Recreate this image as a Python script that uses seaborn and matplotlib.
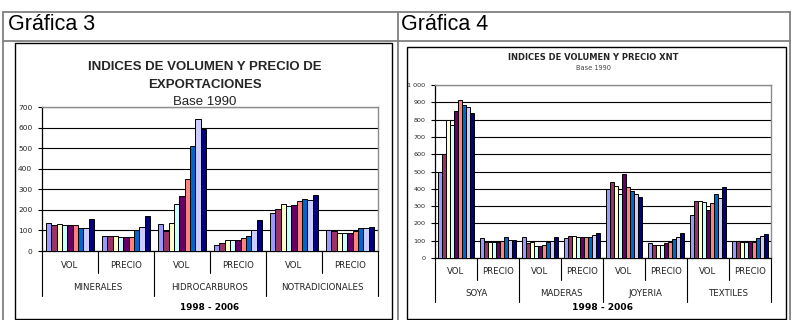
import matplotlib
matplotlib.use("Agg")
import matplotlib.pyplot as plt
import numpy as np
import pandas as pd
import seaborn as sns
from matplotlib.lines import Line2D
from matplotlib.patches import Rectangle
from matplotlib.transforms import blended_transform_factory

# --- data -------------------------------------------------------------
years = [str(y) for y in range(1998, 2007)]
palette = ["#9999FF", "#993366", "#FFFFCC", "#CCFFFF", "#660066",
           "#FF8080", "#0066CC", "#CCCCFF", "#000080"]
measures = ["VOL", "PRECIO"]

# Gráfica 3: export volume and price indices
g3_groups = ["MINERALES", "HIDROCARBUROS", "NOTRADICIONALES"]
minerales_vol = [138, 125, 130, 125, 125, 125, 110, 110, 155]
minerales_precio = [75, 75, 75, 68, 68, 68, 100, 118, 168]
hidrocarburos_vol = [130, 95, 138, 230, 268, 350, 510, 640, 595]
hidrocarburos_precio = [30, 37, 55, 55, 55, 62, 75, 100, 150]
notradicionales_vol = [185, 205, 230, 218, 225, 243, 255, 250, 270]
notradicionales_precio = [100, 95, 88, 88, 88, 95, 110, 110, 118]
g3_values = [minerales_vol, minerales_precio,
             hidrocarburos_vol, hidrocarburos_precio,
             notradicionales_vol, notradicionales_precio]

# Gráfica 4: non-traditional exports (XNT)
g4_groups = ["SOYA", "MADERAS", "JOYERIA", "TEXTILES"]
soya_vol = [500, 600, 795, 770, 850, 915, 885, 870, 840]
soya_precio = [115, 90, 90, 90, 90, 100, 120, 105, 105]
maderas_vol = [120, 85, 90, 70, 68, 78, 95, 100, 120]
maderas_precio = [115, 128, 128, 120, 120, 120, 120, 135, 143]
joyeria_vol = [400, 440, 415, 370, 485, 410, 385, 370, 350]
joyeria_precio = [85, 78, 78, 78, 85, 92, 112, 122, 145]
textiles_vol = [250, 330, 330, 325, 275, 318, 370, 348, 410]
textiles_precio = [100, 100, 92, 92, 100, 92, 115, 128, 138]
g4_values = [soya_vol, soya_precio, maderas_vol, maderas_precio,
             joyeria_vol, joyeria_precio, textiles_vol, textiles_precio]

g3_yticks = list(range(0, 701, 100))
g4_yticks = list(range(0, 1001, 100))
g4_ytick_labels = ["0", "100", "200", "300", "400", "500",
                   "600", "700", "800", "900", "1 000"]


def long_table(groups, values):
    rows = []
    k = 0
    for g in groups:
        for m in measures:
            for y, v in zip(years, values[k]):
                rows.append({"serie": f"{g} {m}", "anio": y, "indice": v})
            k += 1
    return pd.DataFrame(rows)


df3 = long_table(g3_groups, g3_values)
df4 = long_table(g4_groups, g4_values)

# --- figure -----------------------------------------------------------
sns.set_theme(style="white")
plt.rcParams["font.family"] = ["Liberation Sans", "DejaVu Sans"]

W, H = 792, 320
fig = plt.figure(figsize=(W / 100, H / 100), dpi=100)
fig.patch.set_facecolor("white")


def fx(x):
    return x / W


def fy(y):
    return 1 - y / H


def hline(x0, x1, y, color="#808080", lw=1.3):
    fig.add_artist(Line2D([fx(x0), fx(x1)], [fy(y), fy(y)],
                          color=color, lw=lw, transform=fig.transFigure))


def vline(x, y0, y1, color="#808080", lw=1.3):
    fig.add_artist(Line2D([fx(x), fx(x)], [fy(y0), fy(y1)],
                          color=color, lw=lw, transform=fig.transFigure))


# table frame around both charts
hline(3, 790, 12)
hline(3, 790, 41)
vline(3, 12, 320)
vline(398, 12, 320)
vline(790, 12, 320)
fig.text(fx(8), fy(30), "Gráfica 3", fontsize=15.5, color="black", va="baseline")
fig.text(fx(401), fy(30), "Gráfica 4", fontsize=15.5, color="black", va="baseline")

# chart boxes
for (x0, y0, x1, y1) in [(15, 43, 392, 319), (407, 47, 786, 319)]:
    fig.add_artist(Rectangle((fx(x0), fy(y1)), fx(x1) - fx(x0), fy(y0) - fy(y1),
                             fill=False, edgecolor="black", lw=1.0,
                             transform=fig.transFigure))


def draw_chart(rect, df, groups, yticks, yticklabels, tick_fs, sub_fs,
               sub_y, sub_sep, grp_y, grp_sep, period_y, period_fs):
    x0, y0, x1, y1 = rect
    ax = fig.add_axes([fx(x0), fy(y1), fx(x1) - fx(x0), fy(y0) - fy(y1)])
    order = [f"{g} {m}" for g in groups for m in measures]
    sns.barplot(data=df, x="serie", y="indice", hue="anio", order=order,
                hue_order=years, palette=palette, saturation=1,
                edgecolor="black", linewidth=0.7, width=0.86,
                legend=False, ax=ax, zorder=3)
    ax.set_xlim(-0.5, len(order) - 0.5)
    ax.set_ylim(yticks[0], yticks[-1])
    ax.set_yticks(yticks)
    ax.set_yticklabels(yticklabels, fontsize=tick_fs,
                       family=["DejaVu Sans"])
    ax.tick_params(axis="y", length=3, width=0.8, color="black", pad=4,
                   left=True)
    ax.set_xticks([])
    ax.set_xlabel("")
    ax.set_ylabel("")
    ax.yaxis.grid(True, color="black", lw=0.8)
    ax.set_axisbelow(True)
    ax.set_facecolor("white")
    ax.spines["left"].set_color("black")
    ax.spines["left"].set_linewidth(0.9)
    ax.spines["bottom"].set_color("black")
    ax.spines["bottom"].set_linewidth(0.9)
    for s in ("top", "right"):
        ax.spines[s].set_color("#8c8c8c")
        ax.spines[s].set_linewidth(1.0)

    tr = blended_transform_factory(ax.transData, fig.transFigure)
    n = len(order)
    for i, lab in enumerate(order):
        ax.text(i, fy(sub_y), lab.split(" ")[1], transform=tr,
                ha="center", va="center", fontsize=sub_fs,
                family=["DejaVu Sans"], color="#222222")
    for b in range(n + 1):
        xb = b - 0.5
        end = grp_sep if b % 2 == 0 else sub_sep
        ax.add_artist(Line2D([xb, xb], [fy(y1), fy(end)], transform=tr,
                             color="black", lw=0.8, clip_on=False))
    for j, g in enumerate(groups):
        ax.text(2 * j + 0.5, fy(grp_y), g, transform=tr, ha="center",
                va="center", fontsize=sub_fs, family=["DejaVu Sans"],
                color="#222222")
    ax.text((n - 1) / 2, fy(period_y), "1998 - 2006", transform=tr,
            ha="center", va="center", fontsize=period_fs, fontweight="bold",
            family=["DejaVu Sans"], color="black")
    return ax


draw_chart((42, 107, 378, 251), df3, g3_groups, g3_yticks,
           [str(t) for t in g3_yticks], 5.4, 6.2,
           265, 273, 288, 296, 307, 6.4)
draw_chart((435, 85, 771, 258), df4, g4_groups, g4_yticks,
           g4_ytick_labels, 4.6, 6.2,
           272, 280, 294, 302, 308, 6.6)

# chart titles
fig.text(fx(205), fy(67), "INDICES DE VOLUMEN Y PRECIO DE", ha="center",
         va="center", fontsize=9.5, fontweight="bold")
fig.text(fx(205), fy(85), "EXPORTACIONES", ha="center", va="center",
         fontsize=9.5, fontweight="bold")
fig.text(fx(205), fy(102), "Base 1990", ha="center", va="center",
         fontsize=9.5, color="#222222")

fig.text(fx(593), fy(57), "INDICES DE VOLUMEN Y PRECIO XNT", ha="center",
         va="center", fontsize=6.0, fontweight="bold",
         family=["DejaVu Sans"])
fig.text(fx(593), fy(68), "Base 1990", ha="center", va="center",
         fontsize=4.8, color="#444444", family=["DejaVu Sans"])

fig.savefig("out.png", dpi=100, facecolor="white")
